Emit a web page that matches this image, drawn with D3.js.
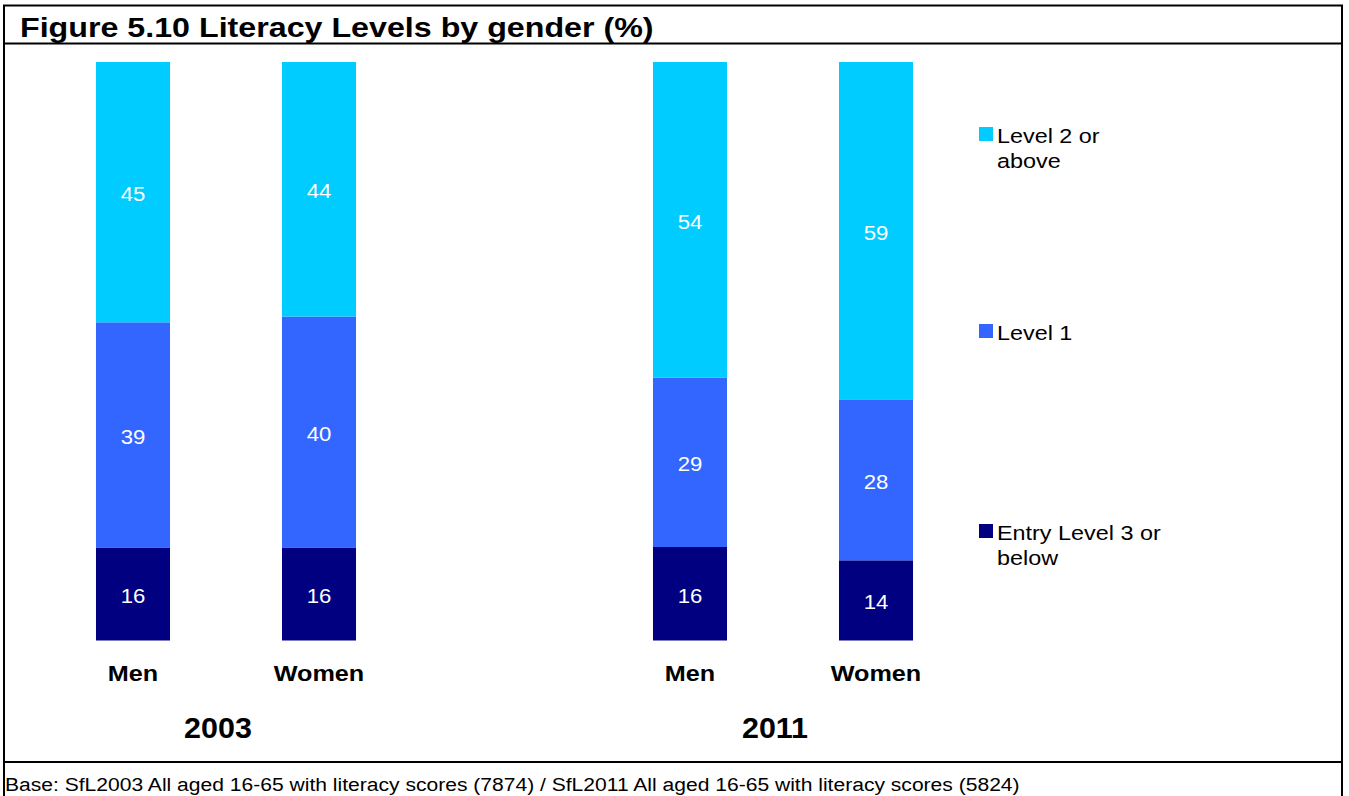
<!DOCTYPE html>
<html><head><meta charset="utf-8">
<script src="https://cdn.jsdelivr.net/npm/d3@7"></script>
<style>body{margin:0;background:#fff}svg{display:block;font-family:Arial,"Liberation Sans",sans-serif}</style>
</head><body>
<svg id="c" width="1349" height="796"></svg>
<script>
const years = ["2003", "2011"];
const genders = ["Men", "Women"];
const seriesNames = ["Entry Level 3 or below", "Level 1", "Level 2 or above"];
// values per bar in order: 2003 Men, 2003 Women, 2011 Men, 2011 Women
const entryLevel3 = [16, 16, 16, 14];
const level1 = [39, 40, 29, 28];
const level2 = [45, 44, 54, 59];
const colors = ["#000080", "#3366FF", "#00CCFF"];
const legendLines = [["Entry Level 3 or", "below"], ["Level 1"], ["Level 2 or", "above"]];
const titleText = "Figure 5.10 Literacy Levels by gender (%)";
const footText = "Base: SfL2003 All aged 16-65 with literacy scores (7874) / SfL2011 All aged 16-65 with literacy scores (5824)";

const svg = d3.select("#c");
function stretch(sel, f){
  sel.each(function(){
    const L = this.getComputedTextLength();
    d3.select(this).attr("textLength", L*f).attr("lengthAdjust","spacingAndGlyphs");
  });
  return sel;
}
// frame
svg.append("rect").attr("x",4).attr("y",5.5).attr("width",1338).attr("height",800).attr("fill","none").attr("stroke","#000").attr("stroke-width",2);
svg.append("line").attr("x1",4).attr("x2",1342).attr("y1",43.5).attr("y2",43.5).attr("stroke","#000").attr("stroke-width",2);
svg.append("line").attr("x1",4).attr("x2",1342).attr("y1",762).attr("y2",762).attr("stroke","#000").attr("stroke-width",2);
stretch(svg.append("text").attr("x",20).attr("y",37).attr("font-size",28.5).attr("font-weight","bold").text(titleText), 1.13);
stretch(svg.append("text").attr("x",5).attr("y",791).attr("font-size",18).text(footText), 1.17);

const bars = [];
years.forEach((y,yi)=>genders.forEach((g,gi)=>{
  const i = yi*2+gi;
  bars.push({year:y, gender:g, vals:[entryLevel3[i], level1[i], level2[i]]});
}));

const xGroup = d3.scaleBand().domain(years).range([40, 969]).paddingInner(1-372/557).paddingOuter(0);
const xInner = d3.scaleBand().domain(genders).range([0, xGroup.bandwidth()]).paddingInner(0.602).paddingOuter(0.301);
const yTop = 62, yBot = 640.5;

bars.forEach(b=>{
  const total = d3.sum(b.vals);
  const y = d3.scaleLinear().domain([0,total]).range([yBot, yTop]);
  const x0 = xGroup(b.year) + xInner(b.gender);
  const w = xInner.bandwidth();
  let cum = 0;
  const segs = b.vals.map((v,k)=>{const s={k,v,y0:cum,y1:cum+v}; cum+=v; return s;});
  const g = svg.append("g");
  g.selectAll("rect").data(segs).join("rect")
    .attr("x",x0).attr("width",w)
    .attr("y",d=>y(d.y1)).attr("height",d=>y(d.y0)-y(d.y1))
    .attr("fill",d=>colors[d.k]);
  stretch(g.selectAll("text").data(segs).join("text")
    .attr("x",x0+w/2).attr("y",d=>(y(d.y0)+y(d.y1))/2+9)
    .attr("text-anchor","middle").attr("fill","#fff").attr("font-size",20.5)
    .text(d=>d.v), 1.08);
  stretch(svg.append("text").attr("x",x0+w/2).attr("y",681).attr("text-anchor","middle")
    .attr("font-size",22.5).attr("font-weight","bold").text(b.gender), 1.12);
});

years.forEach(yr=>{
  stretch(svg.append("text").attr("x",xGroup(yr)+xGroup.bandwidth()/2-8).attr("y",738)
    .attr("text-anchor","middle").attr("font-size",29).attr("font-weight","bold").text(yr), 1.05);
});

// legend (top to bottom: Level 2, Level 1, Entry)
const legendY = [524, 324, 127];
seriesNames.forEach((n,k)=>{
  const g = svg.append("g").attr("transform",`translate(979,${legendY[k]})`);
  g.append("rect").attr("width",14).attr("height",14).attr("fill",colors[k]);
  legendLines[k].forEach((ln,li)=>{
    stretch(g.append("text").attr("x",18).attr("y",16+li*25).attr("font-size",20.5).text(ln), 1.14);
  });
});
</script>
</body></html>
